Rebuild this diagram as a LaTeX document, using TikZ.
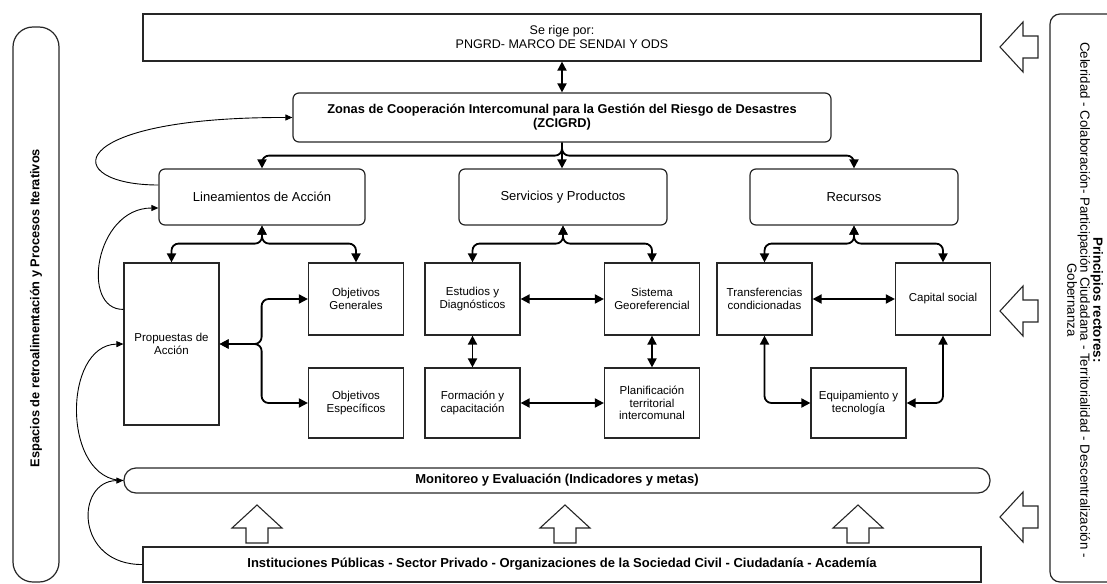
\documentclass[tikz,border=0pt]{standalone}
\usepackage{fontspec}
\setmainfont{Liberation Sans}
\usepackage{tikz}
\usetikzlibrary{arrows.meta,calc,positioning}
\newcommand{\fs}[2]{\fontsize{#1}{#2}\selectfont}

\tikzset{
  box/.style={draw=black!85, line width=1.2pt, align=center, inner sep=2pt, font=\fs{11.5}{12.5}},
  sbox/.style={box, minimum width=95pt, minimum height=72pt},
  rbox/.style={box, rounded corners=6pt, font=\fs{13}{15}},
  panel/.style={draw=black!85, line width=1.2pt},
  conn/.style={line width=1.8pt, rounded corners=7pt},
  fb/.style={line width=0.9pt, >={Triangle[length=7pt,width=6pt]}},
  hollow/.style={draw=black!85, line width=1.1pt, fill=white},
  uparr/.pic={\draw[hollow] (-11,19) -- (-11,4) -- (-25,4) -- (0,-19) -- (25,4) -- (11,4) -- (11,19) -- cycle;},
  leftarr/.pic={\draw[hollow] (19,-11) -- (4,-11) -- (4,-25) -- (-19,0) -- (4,25) -- (4,11) -- (19,11) -- cycle;}
}

\begin{document}
\begin{tikzpicture}[x=1pt, y=-1pt, >={Triangle[length=9pt,width=9pt]}]
				\useasboundingbox (0,0) rectangle (1107,583);
				
				% marco normativo y zonas
				\node[box, minimum width=838pt, minimum height=47pt, font=\fs{12.5}{14}] (rige) at (562,37.5) {Se rige por:\\PNGRD- MARCO DE SENDAI Y ODS};
				\node[rbox, minimum width=538pt, minimum height=49pt, font=\bfseries\fs{12.8}{14}] (zcigrd) at (562,117.5) {Zonas de Cooperación Intercomunal para la Gestión del Riesgo de Desastres\\(ZCIGRD)};
				
				\node[rbox, minimum width=206pt, minimum height=56pt] (lin) at (262,197) {Lineamientos de Acción};
				\node[rbox, minimum width=208pt, minimum height=56pt] (serv) at (563,197) {Servicios y Productos};
				\node[rbox, minimum width=208pt, minimum height=56pt] (recu) at (854,197) {Recursos};
				
				% cajas inferiores
				\node[sbox, minimum height=162pt] (prop) at (171.5,344) {Propuestas de\\Acción};
				\node[sbox] (objg) at (356,299) {Objetivos\\Generales};
				\node[sbox, minimum height=70pt] (obje) at (356,403) {Objetivos\\Específicos};
				\node[sbox] (estu) at (472.5,299) {Estudios y\\Diagnósticos};
				\node[sbox, minimum height=70pt] (form) at (472.5,403) {Formación y\\capacitación};
				\node[sbox] (sist) at (652,299) {Sistema\\Georeferencial};
				\node[sbox, minimum height=70pt] (plan) at (652,403) {Planificación\\territorial\\intercomunal};
				\node[sbox] (tran) at (764.5,299) {Transferencias\\condicionadas};
				\node[sbox] (capi) at (943,299) {Capital social};
				\node[sbox, minimum height=70pt] (equi) at (858.5,403) {Equipamiento y\\tecnología};
				
				\node[rbox, rounded corners=12pt, minimum width=866pt, minimum height=25pt, font=\bfseries\fs{13}{15}] (moni) at (557,480.5) {Monitoreo y Evaluación (Indicadores y metas)};
				\node[box, minimum width=838pt, minimum height=35pt, font=\bfseries\fs{13}{15}] (inst) at (562,564.5) {Instituciones Públicas - Sector Privado - Organizaciones de la Sociedad Civil - Ciudadanía - Academía};
				
				% conectores
				\draw[conn, <->] (rige) -- (zcigrd);
				\draw[conn, ->] (zcigrd.south) -- ++(0,13) -| (lin.north);
				\draw[conn, ->] (zcigrd.south) -- (zcigrd.south |- serv.north);
				\draw[conn, ->] (zcigrd.south) -- ++(0,13) -| (recu.north);
				
				\draw[conn, <->] (lin.south) -- ++(0,18) -| (prop.north);
				\draw[conn, <->] (lin.south) -- ++(0,18) -| (objg.north);
				\draw[conn, <->] (serv.south) -- ++(0,18) -| (estu.north);
				\draw[conn, <->] (serv.south) -- ++(0,18) -| (sist.north);
				\draw[conn, <->] (recu.south) -- ++(0,18) -| (tran.north);
				\draw[conn, <->] (recu.south) -- ++(0,18) -| (capi.north);
				
				\draw[conn, <->] (prop.east) -- ++(42,0) |- (objg.west);
				\draw[conn, <->] (prop.east) -- ++(42,0) |- (obje.west);
				\draw[conn, <->] (estu) -- (sist);
				\draw[conn, <->] (form) -- (plan);
				\draw[conn, <->] (estu) -- (form);
				\draw[conn, <->] (sist) -- (plan);
				\draw[conn, <->] (tran) -- (capi);
				\draw[conn, <->] (tran.south) |- (equi.west);
				\draw[conn, <->] (capi.south) |- (equi.east);
				
				% retroalimentacion
				\draw[fb, ->] ([yshift=12pt]lin.west) .. controls (60,185) and (60,117) .. (zcigrd.west);
				\draw[fb, ->] ([yshift=-47pt]prop.north west) .. controls (80,310) and (95,208) .. ([yshift=-11pt]lin.west);
				\draw[fb, ->] (moni.west) .. controls (62,481) and (62,345) .. (prop.west);
				\draw[fb, ->] (inst.west) .. controls (75,565) and (75,481) .. (moni.west);
				
				% flechas de bloque
				\foreach \x in {257,565,858} \pic at (\x,524) {uparr};
				\foreach \y in {47,311,517} \pic at (1019,\y) {leftarr};
				
				% paneles laterales
				\node[panel, rotate=90, minimum width=555pt, minimum height=46pt, rounded corners=20pt] (fbpanel) at (36,304.5) {};
				\node[rotate=90, font=\bfseries\fs{12.8}{14}] (fbtext) at (36,308) {Espacios de retroalimentación y Procesos Iterativos};
				
				\draw[panel, rounded corners=10pt] (1107,14) -- (1050,14) -- (1050,582) -- (1107,582);
				\node[rotate=-90, align=center, font=\fs{13.3}{13}] (princ) at (1085,300) {\textbf{Principios rectores:}\\Celeridad - Colaboración- Participación Ciudadana - Territorialidad - Descentralización -\\Gobernanza};
			\end{tikzpicture}
\end{document}
